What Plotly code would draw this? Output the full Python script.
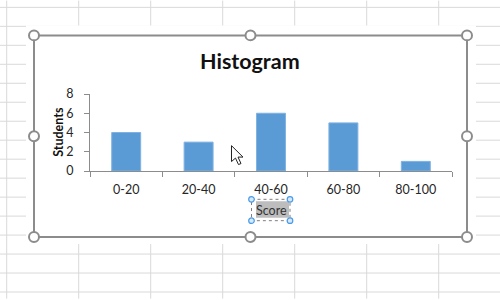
import plotly.graph_objects as go

categories = ["0-20", "20-40", "40-60", "60-80", "80-100"]
students = [4, 3, 6, 5, 1]
y_ticks = [0, 2, 4, 6, 8]

W, H = 500, 300
L, R, T, B = 90, 48, 94, 128.5
PW, PH = W - L - R, H - T - B


def px(x):
    return (x - L) / PW


def py(y):
    return (H - B - y) / PH


shapes = []
grid = "#d9d9d9"
# Excel worksheet gridlines
for i in range(8):
    gx = 6.7 + 72 * i
    shapes.append(dict(type="line", xref="paper", yref="paper", x0=px(gx), x1=px(gx),
                       y0=py(0), y1=py(300), line=dict(color=grid, width=1), layer="below"))
for k in range(17):
    gy = 6.8 + 19.1 * k
    shapes.append(dict(type="line", xref="paper", yref="paper", x0=px(0), x1=px(500),
                       y0=py(gy), y1=py(gy), line=dict(color=grid, width=1), layer="below"))
# chart area (white)
shapes.append(dict(type="rect", xref="paper", yref="paper", x0=px(26), x1=px(476),
                   y0=py(25), y1=py(245), fillcolor="white", line=dict(width=0), layer="below"))
# frame
shapes.append(dict(type="rect", xref="paper", yref="paper", x0=px(34), x1=px(467),
                   y0=py(35), y1=py(238), fillcolor="white",
                   line=dict(color="#8c8c8c", width=2), layer="below"))
# frame handles
for hx, hy in [(34, 35), (250.5, 35), (467, 35), (34, 136.5), (467, 136.5),
               (34, 238), (250.5, 238), (467, 238)]:
    r = 5
    shapes.append(dict(type="circle", xref="paper", yref="paper", x0=px(hx - r), x1=px(hx + r),
                       y0=py(hy - r), y1=py(hy + r), fillcolor="white",
                       line=dict(color="#8c8c8c", width=2), layer="above"))
# Score title selection box
shapes.append(dict(type="rect", xref="paper", yref="paper", x0=px(256), x1=px(289),
                   y0=py(202), y1=py(218.5), fillcolor="#bdbdbd", line=dict(width=0), layer="below"))
shapes.append(dict(type="rect", xref="paper", yref="paper", x0=px(251.5), x1=px(290),
                   y0=py(200), y1=py(221.5), fillcolor="rgba(0,0,0,0)",
                   line=dict(color="#7f7f7f", width=1, dash="dot"), layer="above"))
for hx, hy in [(251.5, 200), (290, 200), (251.5, 221.5), (290, 221.5)]:
    r = 2.8
    shapes.append(dict(type="circle", xref="paper", yref="paper", x0=px(hx - r), x1=px(hx + r),
                       y0=py(hy - r), y1=py(hy + r), fillcolor="#d6e8fa",
                       line=dict(color="#4a9be8", width=1.2), layer="above"))
# mouse cursor
tipx, tipy = 231.5, 146
pts = [(0, 0), (0, 16), (4, 12.5), (7, 19), (9.5, 18), (6.5, 11.5), (11.5, 11.5)]
path = "M " + " L ".join(f"{px(tipx + a):.5f},{py(tipy + b):.5f}" for a, b in pts) + " Z"
shapes.append(dict(type="path", xref="paper", yref="paper", path=path, fillcolor="white",
                   line=dict(color="#222", width=1), layer="above"))

fig = go.Figure(go.Bar(
    x=categories, y=students,
    marker=dict(color="#5b9bd5", line=dict(color="#7fb2e2", width=1)),
    hoverinfo="skip",
))

font_family = "Lato, 'Open Sans', sans-serif"
axis_col = "#8c8c8c"
fig.update_layout(
    width=W, height=H,
    margin=dict(l=L, r=R, t=T, b=B, pad=0),
    paper_bgcolor="white", plot_bgcolor="rgba(0,0,0,0)",
    bargap=0.6, showlegend=False,
    font=dict(family=font_family, color="#262626", size=12),
    shapes=shapes,
    xaxis=dict(range=[-0.5, 4.5], showgrid=False, showline=True, linecolor=axis_col, linewidth=1.2,
               ticks="outside", tickson="boundaries", ticklen=5, tickcolor=axis_col,
               tickfont=dict(size=12.5), ticklabelstandoff=7, zeroline=False, fixedrange=True),
    yaxis=dict(range=[0, 8], tickvals=y_ticks, showgrid=False, showline=True, linecolor=axis_col,
               linewidth=1.2, ticks="outside", ticklen=5, tickcolor=axis_col,
               tickfont=dict(size=12.5), ticklabelstandoff=8, zeroline=False, fixedrange=True),
    annotations=[
        dict(text="<b>Histogram</b>", xref="paper", yref="paper", x=px(250), y=py(61),
             xanchor="center", yanchor="middle", showarrow=False,
             font=dict(size=21.5, color="#111", family=font_family)),
        dict(text="<b>Students</b>", xref="paper", yref="paper", x=px(59), y=py(132),
             xanchor="center", yanchor="middle", textangle=-90, showarrow=False,
             font=dict(size=12.5, color="#111", family=font_family)),
        dict(text="Score", xref="paper", yref="paper", x=px(271), y=py(211.5),
             xanchor="center", yanchor="middle", showarrow=False,
             font=dict(size=12.5, color="#333", family=font_family)),
    ],
)

fig.write_html("out.html", config={"displayModeBar": False})
